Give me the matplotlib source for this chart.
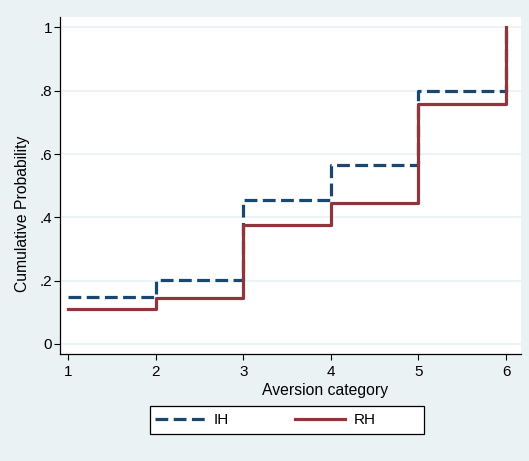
import matplotlib
matplotlib.use("Agg")
import matplotlib.pyplot as plt
from matplotlib.patches import Rectangle

plt.rcParams['font.family'] = ['Liberation Sans', 'DejaVu Sans']

# 数据：累积概率（阶梯图）
categories = [1, 2, 3, 4, 5, 6]
ih_values = [0.148, 0.201, 0.455, 0.565, 0.799, 1.0]
rh_values = [0.110, 0.144, 0.376, 0.444, 0.757, 1.0]
yticks = [0, 0.2, 0.4, 0.6, 0.8, 1.0]
ytick_labels = ['0', '.2', '.4', '.6', '.8', '1']

bg = '#EAF2F3'
navy = '#1A476F'
maroon = '#90353B'
W, H = 529, 461

fig = plt.figure(figsize=(W / 100, H / 100), dpi=100, facecolor=bg)
ax = fig.add_axes([60 / W, 1 - 354 / H, 461 / W, 337 / H])
ax.set_facecolor('white')

ax.plot(categories, ih_values, drawstyle='steps-post', color=navy,
        lw=2.3, dashes=(4, 1.7), label='IH', zorder=3)
ax.plot(categories, rh_values, drawstyle='steps-post', color=maroon,
        lw=2.3, label='RH', zorder=4)

ax.set_xlim(0.909, 6.17)
ax.set_ylim(-0.032, 1.033)
ax.set_xticks(categories)
ax.set_yticks(yticks)
ax.set_yticklabels(ytick_labels)
ax.tick_params(axis='both', labelsize=11, direction='out', length=4,
               width=0.8, colors='black')
ax.tick_params(axis='y', pad=1.5)
ax.tick_params(axis='x', pad=4)
ax.grid(axis='y', color=bg, lw=1.2, zorder=0)
ax.set_axisbelow(True)

for side in ['top', 'right']:
    ax.spines[side].set_visible(False)
for side in ['left', 'bottom']:
    ax.spines[side].set_linewidth(0.9)

ax.set_xlabel('Aversion category', fontsize=11.3)
ax.xaxis.set_label_coords((325 - 60) / 461, -0.086)
ax.set_ylabel('Cumulative Probability', fontsize=11.3)
ax.yaxis.set_label_coords(-(60 - 30) / 461, 0.415)

# 图例：外框单独画，条目左对齐
fig.patches.append(Rectangle((150 / W, 1 - 434 / H), 274 / W, 28 / H,
                             transform=fig.transFigure, facecolor='white',
                             edgecolor='black', lw=0.9, zorder=1))
leg = fig.legend(loc='center left', ncol=2, frameon=False,
                 bbox_to_anchor=(155 / W, 1 - 420 / H),
                 fontsize=11, handlelength=3.3, handletextpad=0.55,
                 columnspacing=4.3, borderaxespad=0, borderpad=0)
leg.set_zorder(2)

fig.savefig('out.png', dpi=100, facecolor=bg)
